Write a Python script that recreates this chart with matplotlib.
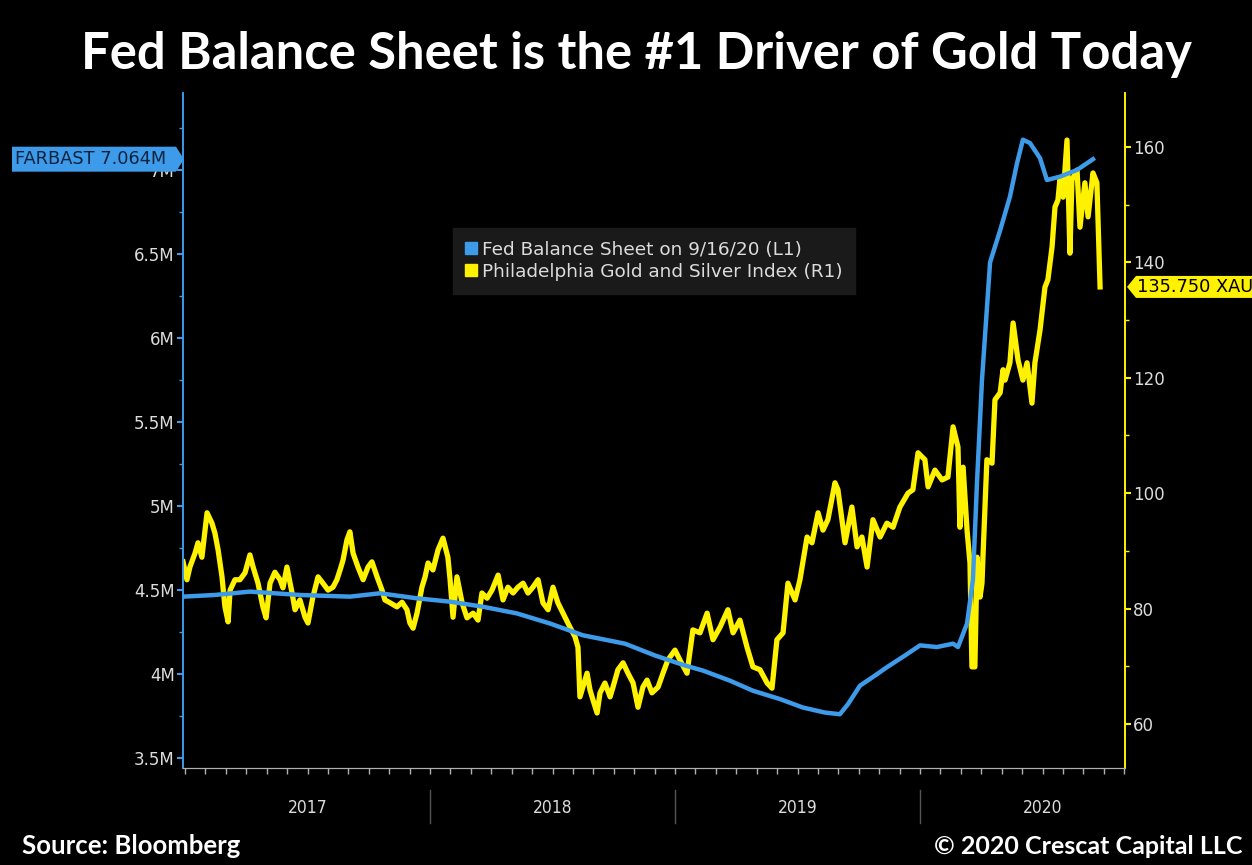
import matplotlib
matplotlib.use("Agg")
import matplotlib.pyplot as plt
import matplotlib.transforms as mtransforms
from matplotlib.patches import Polygon
from matplotlib.lines import Line2D
import numpy as np

# ---------------- data (decimal years) ----------------
fed_t = [2016.992, 2017.122, 2017.265, 2017.469, 2017.673, 2017.796, 2017.947,
         2018.082, 2018.216, 2018.355, 2018.490, 2018.624, 2018.796, 2018.918,
         2019.041, 2019.114, 2019.224, 2019.318, 2019.429, 2019.522, 2019.612,
         2019.673, 2019.706, 2019.755, 2019.816, 2019.865, 2019.939, 2020.000,
         2020.069, 2020.135, 2020.155, 2020.192, 2020.216, 2020.233, 2020.253,
         2020.286, 2020.327, 2020.367, 2020.396, 2020.420, 2020.449, 2020.490,
         2020.518, 2020.571, 2020.641, 2020.706]
fed_v = [4.46, 4.47, 4.49, 4.47, 4.46, 4.48, 4.45,
         4.43, 4.40, 4.36, 4.30, 4.23, 4.18, 4.11,
         4.05, 4.02, 3.96, 3.90, 3.85, 3.80, 3.77,
         3.76, 3.82, 3.93, 3.99, 4.04, 4.11, 4.17,
         4.16, 4.18, 4.16, 4.30, 4.56, 5.15, 5.75,
         6.45, 6.64, 6.84, 7.04, 7.18, 7.16, 7.07,
         6.94, 6.96, 7.00, 7.064]

gold_t = [2016.992, 2017.008, 2017.020, 2017.041, 2017.053, 2017.069, 2017.090,
          2017.110, 2017.122, 2017.135, 2017.151, 2017.163, 2017.176, 2017.184,
          2017.204, 2017.224, 2017.245, 2017.265, 2017.278, 2017.298, 2017.318,
          2017.331, 2017.347, 2017.367, 2017.388, 2017.400, 2017.416, 2017.437,
          2017.449, 2017.469, 2017.490, 2017.502, 2017.522, 2017.543, 2017.563,
          2017.584, 2017.604, 2017.620, 2017.633, 2017.645, 2017.661, 2017.673,
          2017.686, 2017.706, 2017.727, 2017.747, 2017.763, 2017.784, 2017.804,
          2017.816, 2017.837, 2017.865, 2017.886, 2017.906, 2017.918, 2017.931,
          2017.947, 2017.967, 2017.980, 2017.992, 2018.012, 2018.033, 2018.053,
          2018.073, 2018.082, 2018.094, 2018.110, 2018.131, 2018.151, 2018.176,
          2018.196, 2018.212, 2018.233, 2018.253, 2018.278, 2018.298, 2018.318,
          2018.339, 2018.359, 2018.380, 2018.400, 2018.420, 2018.441, 2018.461,
          2018.482, 2018.502, 2018.522, 2018.551, 2018.571, 2018.592, 2018.604,
          2018.612, 2018.624, 2018.641, 2018.653, 2018.665, 2018.682, 2018.694,
          2018.714, 2018.735, 2018.747, 2018.767, 2018.788, 2018.808, 2018.829,
          2018.849, 2018.869, 2018.886, 2018.906, 2018.931, 2018.951, 2018.971,
          2019.000, 2019.020, 2019.049, 2019.073, 2019.102, 2019.131, 2019.155,
          2019.184, 2019.216, 2019.237, 2019.265, 2019.294, 2019.318, 2019.347,
          2019.376, 2019.396, 2019.416, 2019.441, 2019.461, 2019.490, 2019.510,
          2019.539, 2019.559, 2019.584, 2019.604, 2019.624, 2019.653, 2019.665,
          2019.694, 2019.722, 2019.743, 2019.763, 2019.784, 2019.808, 2019.837,
          2019.865, 2019.890, 2019.918, 2019.951, 2019.971, 2019.992, 2020.020,
          2020.033, 2020.061, 2020.090, 2020.114, 2020.135, 2020.155, 2020.163,
          2020.176, 2020.192, 2020.204, 2020.212, 2020.224, 2020.233, 2020.245,
          2020.253, 2020.257, 2020.273, 2020.294, 2020.306, 2020.327, 2020.339,
          2020.347, 2020.367, 2020.380, 2020.400, 2020.420, 2020.437, 2020.457,
          2020.469, 2020.490, 2020.510, 2020.522, 2020.539, 2020.551, 2020.563,
          2020.571, 2020.584, 2020.600, 2020.612, 2020.620, 2020.641, 2020.653,
          2020.673, 2020.686, 2020.706, 2020.722, 2020.735]
gold_v = [88.1, 85.0, 87.2, 89.6, 91.4, 88.9, 96.6,
          94.8, 93.1, 90.2, 85.5, 80.3, 77.7, 83.2,
          85.0, 85.0, 86.2, 89.3, 87.2, 84.4, 80.3,
          78.4, 84.4, 86.3, 85.0, 83.6, 87.2, 82.7,
          79.8, 81.5, 78.5, 77.5, 82.0, 85.5, 84.4,
          83.2, 83.7, 85.0, 86.7, 88.4, 91.9, 93.3,
          89.6, 87.2, 85.0, 87.2, 88.1, 85.5, 83.2,
          81.5, 81.0, 80.3, 81.1, 79.8, 77.5, 76.6,
          79.2, 83.7, 85.5, 87.9, 86.7, 90.2, 92.2,
          88.9, 85.0, 78.5, 85.5, 81.0, 78.4, 79.2,
          78.0, 82.7, 81.8, 83.2, 85.8, 81.5, 83.7,
          82.7, 83.7, 84.4, 82.7, 83.7, 85.0, 81.0,
          79.8, 83.7, 81.0, 78.5, 76.8, 75.1, 73.3,
          64.7, 66.4, 68.8, 65.9, 64.2, 61.9, 65.4,
          67.1, 64.7, 66.4, 69.4, 70.6, 68.8, 67.1,
          62.9, 66.4, 67.6, 65.4, 66.4, 68.8, 71.1,
          72.8, 71.1, 68.8, 76.3, 75.8, 79.2, 74.6,
          76.8, 79.8, 75.8, 78.0, 73.3, 69.9, 69.4,
          67.1, 66.2, 74.6, 75.8, 84.4, 81.5, 85.0,
          92.4, 91.4, 96.6, 93.6, 95.4, 101.8, 100.6,
          91.4, 97.6, 90.7, 92.4, 87.2, 95.4, 92.4,
          94.8, 94.1, 97.6, 100.0, 100.6, 107.0, 105.8,
          101.1, 104.0, 102.3, 102.8, 111.5, 108.0, 94.1,
          104.5, 93.6, 87.9, 69.9, 69.9, 88.9, 82.0,
          84.4, 88.9, 105.8, 105.2, 116.2, 117.4, 121.4,
          119.6, 122.6, 129.5, 123.1, 119.6, 122.6, 115.6,
          122.6, 128.3, 135.7, 137.0, 142.7, 149.6, 150.8,
          154.3, 151.3, 161.2, 141.6, 154.3, 156.0, 146.1,
          153.8, 147.9, 155.5, 153.8, 135.75]

left_ticks = [3.5, 4.0, 4.5, 5.0, 5.5, 6.0, 6.5, 7.0]
left_labels = ["3.5M", "4M", "4.5M", "5M", "5.5M", "6M", "6.5M", "7M"]
right_ticks = [60, 80, 100, 120, 140, 160]
years = [2017, 2018, 2019, 2020]

title = "Fed Balance Sheet is the #1 Driver of Gold Today"
fed_label = "Fed Balance Sheet on 9/16/20 (L1)"
gold_label = "Philadelphia Gold and Silver Index (R1)"

BLUE = "#3d9be9"
YELLOW = "#fff200"
TXT = "#dcdcdc"

# ---------------- figure ----------------
W, H = 1252, 865
fig = plt.figure(figsize=(W / 100, H / 100), dpi=100, facecolor="black")
ax = fig.add_axes([183 / W, 1 - 768 / H, (1125 - 183) / W, (768 - 93) / H])
ax2 = ax.twinx()
ax.set_zorder(ax2.get_zorder() + 1)
ax.patch.set_visible(False)
ax2.patch.set_facecolor("black")

ax2.plot(gold_t, gold_v, color=YELLOW, lw=3.8, solid_joinstyle="round", zorder=2)
ax.plot(fed_t, fed_v, color=BLUE, lw=3.2, solid_joinstyle="round", zorder=3)

x0 = 2017 + (183 - 185) / 245
x1 = 2017 + (1125 - 185) / 245
ax.set_xlim(x0, x1)
ax.set_ylim(3.44, 7.458)
ax2.set_ylim(52.37, 169.36)

# spines
for a in (ax, ax2):
    a.spines["top"].set_visible(False)
    a.spines["left"].set_color(BLUE)
    a.spines["right"].set_color(YELLOW)
    a.spines["bottom"].set_color("#b0b0b0")
    a.spines["left"].set_linewidth(1.2)
    a.spines["right"].set_linewidth(1.2)

ax.set_yticks(left_ticks)
ax.set_yticklabels(left_labels)
ax.set_yticks(np.arange(3.75, 7.3, 0.5), minor=True)
ax.tick_params(axis="y", which="major", colors=BLUE, labelcolor=TXT, length=4,
               width=1.5, labelsize=12, pad=2)
ax.tick_params(axis="y", which="minor", colors=BLUE, length=3, width=1)

ax2.set_yticks(right_ticks)
ax2.set_yticks([70, 90, 110, 130, 150], minor=True)
ax2.tick_params(axis="y", which="major", colors=YELLOW, labelcolor=TXT, length=4,
                width=1.5, labelsize=12, pad=2)
ax2.tick_params(axis="y", which="minor", colors=YELLOW, length=3, width=1)

months = [2017 + k / 12 for k in range(0, 47)]
ax.set_xticks(months)
ax.set_xticklabels([])
ax.tick_params(axis="x", which="major", colors="#b0b0b0", length=4, width=1)
ax2.tick_params(axis="x", length=0)

# year labels and separators
bt = mtransforms.blended_transform_factory(ax.transData, ax.transAxes)
for y in years:
    ax.text(y + 0.5, -0.059, str(y), transform=bt, ha="center", va="center",
            color=TXT, fontsize=12.5, fontstretch="condensed")
for y in years[1:]:
    ax.add_line(Line2D([y, y], [-0.033, -0.081], transform=bt, color="#555555",
                       lw=1, clip_on=False))

# legend
handles = [Line2D([], [], ls="none", marker="s", ms=9, color=BLUE),
           Line2D([], [], ls="none", marker="s", ms=9, color=YELLOW)]
leg = ax.legend(handles, [fed_label, gold_label], loc="upper left",
                bbox_to_anchor=((453 - 183) / 942, (768 - 228) / 675),
                frameon=True, facecolor="#1a1a1a", edgecolor="#1a1a1a",
                framealpha=1, fancybox=False, fontsize=13.3, labelcolor=TXT,
                handlelength=0.6, handletextpad=0.25, borderpad=0.7,
                labelspacing=0.2, borderaxespad=0)

# value tags
tl = mtransforms.blended_transform_factory(fig.transFigure, ax.transData)
v = fed_v[-1]
h = 12.5 / 168
tag = Polygon([[12 / W, v - h], [176 / W, v - h], [184 / W, v], [176 / W, v + h],
               [12 / W, v + h]], closed=True, transform=tl, fc=BLUE, ec="none",
              clip_on=False, zorder=10)
fig.patches.append(tag)
fig.text(15 / W, v, "FARBAST %.3fM" % v, transform=tl, ha="left", va="center",
         color="#0c2340", fontsize=12.8, zorder=11)

tr = mtransforms.blended_transform_factory(fig.transFigure, ax2.transData)
g = gold_v[-1]
h2 = 11 / 5.77
tag2 = Polygon([[1127 / W, g], [1136 / W, g - h2], [1.0, g - h2], [1.0, g + h2],
                [1136 / W, g + h2]], closed=True, transform=tr, fc=YELLOW,
               ec="none", clip_on=False, zorder=10)
fig.patches.append(tag2)
fig.text(1137 / W, g, "%.3f XAU" % g, transform=tr, ha="left", va="center",
         color="black", fontsize=12.8, zorder=11)

# title and footer
fig.text(0.508, 1 - 54 / H, title, ha="center", va="center", color="white",
         fontsize=36.5, fontweight="bold", family="Lato")
fig.text(22 / W, 1 - 846 / H, "Source: Bloomberg", ha="left", va="center",
         color="white", fontsize=18.5, fontweight="bold", family="Lato")
fig.text(1242 / W, 1 - 846 / H, "\u00a9 2020 Crescat Capital LLC", ha="right",
         va="center", color="white", fontsize=18, fontweight="bold", family="Lato")

fig.savefig("out.png", dpi=100, facecolor="black")
